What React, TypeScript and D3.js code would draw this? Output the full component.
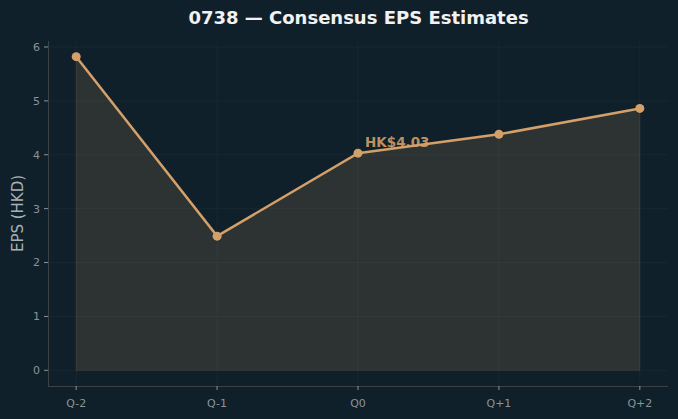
import { useRef, useEffect } from 'react'
import * as d3 from 'd3'

// Consensus EPS estimates, quarter by quarter
const quarters = ['Q-2', 'Q-1', 'Q0', 'Q+1', 'Q+2']
const eps = [5.82, 2.49, 4.03, 4.38, 4.86]
const yTicks = [0, 1, 2, 3, 4, 5, 6]
const title = '0738 — Consensus EPS Estimates'
const highlightLabel = 'HK$4.03'

export default function App() {
  const svgRef = useRef<SVGSVGElement>(null)

  useEffect(() => {
    const width = 678
    const height = 419
    const margin = { top: 41, right: 10, bottom: 33, left: 48 }
    const font = 'DejaVu Sans, sans-serif'

    const svg = d3.select(svgRef.current)
      .attr('width', width)
      .attr('height', height)
    svg.selectAll('*').remove()

    svg.append('rect').attr('width', width).attr('height', height).attr('fill', '#10202a')

    const innerW = width - margin.left - margin.right
    const innerH = height - margin.top - margin.bottom

    const x = d3.scaleLinear().domain([-0.2, quarters.length - 1 + 0.2]).range([0, innerW])
    const ymax = d3.max(eps)!
    const pad = ymax * 0.05
    const y = d3.scaleLinear().domain([-pad, ymax + pad]).range([innerH, 0])

    const g = svg.append('g').attr('transform', `translate(${margin.left},${margin.top})`)

    // grid
    g.selectAll('line.hgrid').data(yTicks).join('line')
      .attr('x1', 0).attr('x2', innerW)
      .attr('y1', d => y(d)).attr('y2', d => y(d))
      .attr('stroke', '#ffffff').attr('stroke-opacity', 0.035)
    g.selectAll('line.vgrid').data(quarters).join('line')
      .attr('y1', 0).attr('y2', innerH)
      .attr('x1', (d, i) => x(i)).attr('x2', (d, i) => x(i))
      .attr('stroke', '#ffffff').attr('stroke-opacity', 0.035)

    // area
    const area = d3.area<number>()
      .x((d, i) => x(i))
      .y0(y(0))
      .y1(d => y(d))
    g.append('path').datum(eps)
      .attr('d', area)
      .attr('fill', '#d4a06a').attr('fill-opacity', 0.15)
      .attr('stroke', '#d4a06a').attr('stroke-opacity', 0.12)

    const line = d3.line<number>().x((d, i) => x(i)).y(d => y(d))
    g.append('path').datum(eps)
      .attr('d', line)
      .attr('fill', 'none')
      .attr('stroke', '#d4a06a')
      .attr('stroke-width', 2.5)

    g.selectAll('circle').data(eps).join('circle')
      .attr('cx', (d, i) => x(i)).attr('cy', d => y(d))
      .attr('r', 4.5)
      .attr('fill', '#d4a06a')

    // highlight label on Q0
    g.append('text')
      .attr('x', x(2) + 7).attr('y', y(eps[2]) - 6)
      .attr('font-family', font).attr('font-size', 13.5).attr('font-weight', 'bold')
      .attr('fill', '#d4a06a').attr('fill-opacity', 0.9)
      .text(highlightLabel)

    // spines
    g.append('line').attr('x1', 0.5).attr('x2', 0.5).attr('y1', 0).attr('y2', innerH)
      .attr('stroke', '#3c4143')
    g.append('line').attr('x1', 0).attr('x2', innerW).attr('y1', innerH + 0.5).attr('y2', innerH + 0.5)
      .attr('stroke', '#3c4143')

    // y ticks
    const yt = g.selectAll('g.yt').data(yTicks).join('g')
      .attr('transform', d => `translate(0,${y(d)})`)
    yt.append('line').attr('x1', -4).attr('x2', 0).attr('stroke', '#8a9399')
    yt.append('text')
      .attr('x', -8).attr('dy', '0.35em')
      .attr('text-anchor', 'end')
      .attr('font-family', font).attr('font-size', 11)
      .attr('fill', '#8a9399')
      .text(d => d)

    // x ticks
    const xt = g.selectAll('g.xt').data(quarters).join('g')
      .attr('transform', (d, i) => `translate(${x(i)},${innerH})`)
    xt.append('line').attr('y1', 0).attr('y2', 4).attr('stroke', '#8a9399')
    xt.append('text')
      .attr('y', 21).attr('text-anchor', 'middle')
      .attr('font-family', font).attr('font-size', 11)
      .attr('fill', '#8a9399')
      .text(d => d)

    // y label
    svg.append('text')
      .attr('transform', `translate(23,${margin.top + innerH / 2}) rotate(-90)`)
      .attr('text-anchor', 'middle')
      .attr('font-family', font).attr('font-size', 15)
      .attr('fill', '#a9b1b6')
      .text('EPS (HKD)')

    // title
    svg.append('text')
      .attr('x', 358.5).attr('y', 24)
      .attr('text-anchor', 'middle')
      .attr('font-family', font).attr('font-size', 18).attr('font-weight', 'bold')
      .attr('fill', '#f2f2f2')
      .text(title)
  }, [])

  return (
    <div style={{ position: 'fixed', left: 0, top: 0 }}>
      <svg ref={svgRef} style={{ display: 'block' }} />
    </div>
  )
}
